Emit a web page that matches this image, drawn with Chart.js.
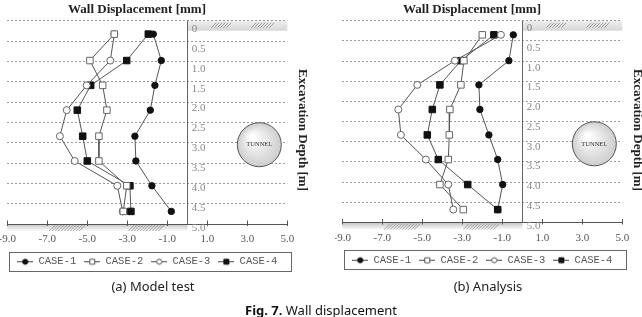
<!DOCTYPE html>
<html>
<head>
<meta charset="utf-8">
<script src="https://cdn.jsdelivr.net/npm/chart.js@4.4.1/dist/chart.umd.min.js"></script>
<style>
    html, body { margin: 0; padding: 0; background: #fff; overflow: hidden; }
    body { width: 642px; height: 317px; position: relative; }
    canvas { position: absolute; top: 0; }
    .cap { position: absolute; font-family: 'Noto Sans', sans-serif; font-size: 13px; line-height: 16px; color: #222; white-space: nowrap; transform: translateX(-50%); }
</style>
</head>
<body>
<canvas id="chart-a" width="309" height="280" style="left:0"></canvas>
<canvas id="chart-b" width="309" height="280" style="left:335px"></canvas>
<div class="cap" style="left:153px; top:278px">(a) Model test</div>
<div class="cap" style="left:488px; top:278px">(b) Analysis</div>
<div class="cap" style="left:321px; top:302px; color:#111"><b>Fig. 7.</b> Wall displacement</div>
<script>
const seriesNames = ['CASE-1', 'CASE-2', 'CASE-3', 'CASE-4'];
const depthTicks = [0, 0.5, 1.0, 1.5, 2.0, 2.5, 3.0, 3.5, 4.0, 4.5, 5.0];
const depthLabels = ['0', '0.5', '1.0', '1.5', '2.0', '2.5', '3.0', '3.5', '4.0', '4.5', '5.0'];

// (a) Model test - depth [m], wall displacement [mm]
const modelDepth = [0.33, 0.98, 1.59, 2.20, 2.84, 3.45, 4.06, 4.69];
const modelCase1 = [-1.70, -1.30, -1.62, -1.85, -2.62, -2.57, -1.77, -0.80];
const modelCase2 = [-3.65, -4.87, -4.23, -4.02, -4.42, -4.42, -3.03, -3.20];
const modelCase3 = [-3.65, -3.85, -5.03, -6.03, -6.37, -5.63, -3.50, -3.23];
const modelCase4 = [-1.95, -3.03, -4.83, -5.50, -5.23, -5.00, -2.87, -2.82];

// (b) Analysis
const analysisDepth = [0.35, 0.99, 1.59, 2.20, 2.83, 3.44, 4.06, 4.68];
const analysisCase1 = [-0.45, -0.67, -2.17, -2.12, -1.67, -1.23, -0.98, -1.23];
const analysisCase2 = [-2.00, -2.92, -3.07, -3.62, -3.65, -3.70, -4.12, -2.95];
const analysisCase3 = [-1.07, -3.37, -5.25, -6.20, -6.07, -4.82, -3.70, -3.45];
const analysisCase4 = [-1.42, -3.07, -4.12, -4.50, -4.75, -4.20, -2.73, -1.23];

// tunnel position (x [mm-axis], depth)
const tunnelCenter = [3.6, 3.05];

Chart.defaults.font.family = '"Liberation Serif", serif';

const seriesStyle = [
    { pointStyle: 'circle', pointRadius: 3.2, pointBackgroundColor: '#111', pointBorderColor: '#111' },
    { pointStyle: 'rect', pointRadius: 4.6, pointBackgroundColor: '#fff', pointBorderColor: '#666' },
    { pointStyle: 'circle', pointRadius: 3.5, pointBackgroundColor: '#fff', pointBorderColor: '#666' },
    { pointStyle: 'rect', pointRadius: 4.6, pointBackgroundColor: '#111', pointBorderColor: '#111' }
];

// small legend icons: line with marker on it
function legendIcon(i) {
    const c = document.createElement('canvas');
    c.width = 16; c.height = 10;
    const g = c.getContext('2d');
    g.strokeStyle = '#444';
    g.lineWidth = 1;
    g.beginPath(); g.moveTo(0, 5.5); g.lineTo(16, 5.5); g.stroke();
    const filled = i === 0 || i === 3;
    g.fillStyle = filled ? '#111' : '#fff';
    g.strokeStyle = filled ? '#111' : '#555';
    g.beginPath();
    if (seriesStyle[i].pointStyle === 'circle') g.arc(8, 5.5, 2.6, 0, Math.PI * 2);
    else g.rect(5.5, 3, 5, 5);
    g.fill(); g.stroke();
    return c;
}
const legendIcons = seriesNames.map((n, i) => legendIcon(i));

function hatch(ctx, x1, x2, yTop, h) {
    ctx.beginPath();
    for (let px = x1; px < x2; px += 3) {
        ctx.moveTo(px, yTop + h);
        ctx.lineTo(px + h, yTop);
    }
    ctx.stroke();
}

const decorPlugin = {
    id: 'decor',
    beforeDraw(chart) {
        // ground bands go under the grid and the depth labels
        const { ctx, chartArea: a, scales: { x } } = chart;
        const x0 = Math.round(x.getPixelForValue(0)) + 0.5;
        ctx.save();
        let g = ctx.createLinearGradient(0, a.top, 0, a.top + 10);
        g.addColorStop(0, '#efefef');
        g.addColorStop(1, '#d6d6d6');
        ctx.fillStyle = g;
        ctx.fillRect(x0, a.top, a.right - x0, 10);
        g = ctx.createLinearGradient(0, a.bottom, 0, a.bottom + 7);
        g.addColorStop(0, '#c4c4c4');
        g.addColorStop(1, '#fbfbfb');
        ctx.fillStyle = g;
        ctx.fillRect(a.left, a.bottom, x0 - a.left, 7);

        ctx.strokeStyle = '#8c8c8c';
        ctx.lineWidth = 0.8;
        hatch(ctx, x.getPixelForValue(1.2), x.getPixelForValue(2.1), a.top + 2, 5);
        hatch(ctx, x.getPixelForValue(3.2), x.getPixelForValue(4.1), a.top + 2, 5);
        hatch(ctx, x.getPixelForValue(-6.9), x.getPixelForValue(-5.3), a.bottom + 1, 6);
        hatch(ctx, x.getPixelForValue(-2.95), x.getPixelForValue(-1.35), a.bottom + 1, 6);
        ctx.restore();
    },
    beforeDatasetsDraw(chart) {
        const { ctx, chartArea: a, scales: { x, y } } = chart;
        const x0 = Math.round(x.getPixelForValue(0)) + 0.5;
        ctx.save();
        // wall
        ctx.strokeStyle = '#666';
        ctx.lineWidth = 1;
        ctx.beginPath();
        ctx.moveTo(x0, a.top);
        ctx.lineTo(x0, a.bottom);
        ctx.stroke();

        // tunnel
        const cx = x.getPixelForValue(tunnelCenter[0]);
        const cy = y.getPixelForValue(tunnelCenter[1]);
        const r = 22;
        const rg = ctx.createRadialGradient(cx - 7, cy - 8, 2, cx, cy, r);
        rg.addColorStop(0, '#ffffff');
        rg.addColorStop(1, '#cdcdcd');
        ctx.beginPath();
        ctx.arc(cx, cy, r, 0, Math.PI * 2);
        ctx.fillStyle = rg;
        ctx.fill();
        ctx.strokeStyle = '#555';
        ctx.stroke();
        ctx.font = '6.5px "Liberation Serif"';
        ctx.fillStyle = '#333';
        ctx.textAlign = 'center';
        ctx.textBaseline = 'middle';
        ctx.fillText('TUNNEL', cx, cy);
        ctx.restore();
    },
    afterDraw(chart) {
        const { ctx, chartArea: a, scales: { x } } = chart;
        ctx.save();
        // tick marks on the x axis
        ctx.strokeStyle = '#555';
        ctx.lineWidth = 1;
        ctx.beginPath();
        x.ticks.forEach(t => {
            const px = Math.round(x.getPixelForValue(t.value)) + 0.5;
            ctx.moveTo(px, a.bottom - 3.5);
            ctx.lineTo(px, a.bottom + 2);
        });
        ctx.stroke();

        // titles
        ctx.fillStyle = '#222';
        ctx.font = 'bold 13px "Liberation Serif"';
        ctx.textAlign = 'center';
        ctx.textBaseline = 'middle';
        ctx.fillText('Wall Displacement [mm]', 137, 9.5);
        ctx.translate(302, 130);
        ctx.rotate(Math.PI / 2);
        ctx.fillText('Excavation Depth [m]', 0, 0);
        ctx.setTransform(1, 0, 0, 1, 0, 0);

        // legend frame
        const hb = chart.legend.legendHitBoxes;
        if (hb && hb.length) {
            const last = hb[hb.length - 1];
            const cyL = hb[0].top + hb[0].height / 2;
            const l = Math.round(hb[0].left - 8) + 0.5;
            const rr = Math.round(last.left + last.width + 14) + 0.5;
            ctx.strokeStyle = '#666';
            ctx.strokeRect(l, Math.round(cyL - 9.5) + 0.5, rr - l, 19);
        }
        ctx.restore();
    }
};

function buildChart(id, depth, cases, labelRange, padBottom) {
    const datasets = cases.map((vals, i) => ({
        label: seriesNames[i],
        data: vals.map((v, k) => ({ x: v, y: depth[k] })),
        yAxisID: 'y',
        showLine: true,
        borderColor: '#555',
        borderWidth: 1,
        pointBorderWidth: 1,
        tension: 0,
        ...seriesStyle[i]
    }));

    return new Chart(document.getElementById(id), {
        type: 'scatter',
        data: { datasets },
        options: {
            responsive: false,
            animation: false,
            devicePixelRatio: 1,
            events: [],
            layout: { padding: { left: 7.3, right: 21.7, top: 20.7, bottom: padBottom } },
            scales: {
                x: {
                    type: 'linear',
                    min: -9,
                    max: 5,
                    ticks: {
                        stepSize: 2,
                        color: '#555',
                        font: { size: 11 },
                        padding: 9,
                        maxRotation: 0,
                        callback: v => v.toFixed(1)
                    },
                    grid: { display: false, drawTicks: false },
                    border: { display: true, color: '#555', width: 1 },
                    afterFit: s => { s.paddingLeft = 0; s.paddingRight = 0; s.height = 24; }
                },
                y: {
                    type: 'linear',
                    reverse: true,
                    min: 0,
                    max: 5,
                    ticks: { display: false, stepSize: 0.5 },
                    grid: {
                        color: c => (c.tick && c.tick.value === 5) ? 'rgba(0,0,0,0)' : '#9a9a9a',
                        drawTicks: false,
                        lineWidth: 1
                    },
                    border: { display: false, dash: [2, 2] },
                    afterFit: s => { s.width = 0; s.paddingTop = 0; s.paddingBottom = 0; }
                },
                yl: {
                    type: 'linear',
                    position: 'left',
                    reverse: true,
                    min: labelRange[0],
                    max: labelRange[1],
                    afterBuildTicks: s => { s.ticks = depthTicks.map(v => ({ value: v })); },
                    ticks: {
                        mirror: true,
                        padding: 184.5,
                        color: '#888',
                        autoSkip: false,
                        font: { size: 11 },
                        callback: (v, i) => depthLabels[i]
                    },
                    grid: { display: false, drawTicks: false },
                    border: { display: false },
                    afterFit: s => { s.width = 0; s.paddingTop = 0; s.paddingBottom = 0; }
                }
            },
            plugins: {
                tooltip: { enabled: false },
                legend: {
                    position: 'bottom',
                    align: 'center',
                    labels: {
                        usePointStyle: true,
                        pointStyleWidth: 16,
                        padding: 8,
                        color: '#555',
                        font: { family: '"Liberation Mono", monospace', size: 10.5 },
                        generateLabels: chart => chart.data.datasets.map((ds, i) => ({
                            text: ds.label,
                            pointStyle: legendIcons[i],
                            fillStyle: 'rgba(0,0,0,0)',
                            strokeStyle: 'rgba(0,0,0,0)',
                            lineWidth: 0,
                            fontColor: '#555',
                            hidden: false,
                            datasetIndex: i
                        }))
                    }
                }
            }
        },
        plugins: [decorPlugin]
    });
}

buildChart('chart-a', modelDepth, [modelCase1, modelCase2, modelCase3, modelCase4], [-0.2085, 4.8995], 3.5);
buildChart('chart-b', analysisDepth, [analysisCase1, analysisCase2, analysisCase3, analysisCase4], [-0.192, 4.917], 5);
</script>
</body>
</html>
